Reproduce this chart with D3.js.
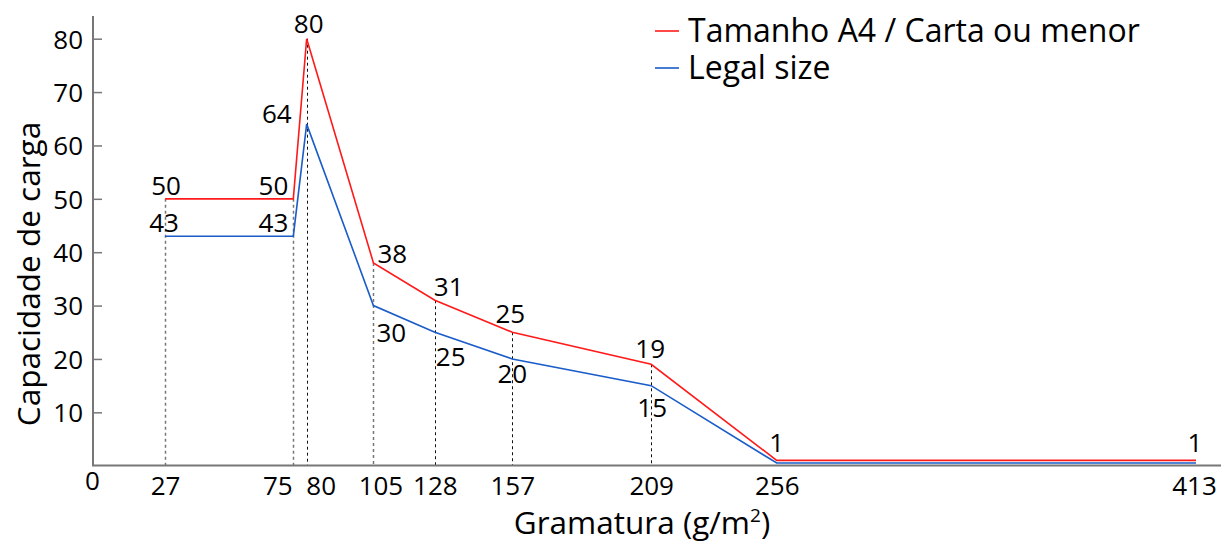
<!DOCTYPE html>
<html>
<head>
<meta charset="utf-8">
<script src="https://cdn.jsdelivr.net/npm/d3@7"></script>
<style>
  html, body { margin: 0; padding: 0; background: #fff; }
  svg { display: block; font-family: "Open Sans", sans-serif; }
</style>
</head>
<body>
<svg id="chart" width="1221" height="542"></svg>
<script>
// ---- data ----
const weights = [27, 75, 80, 105, 128, 157, 209, 256, 413];
const a4Values = [50, 50, 80, 38, 31, 25, 19, 1, 1];
const legalValues = [43, 43, 64, 30, 25, 20, 15, 0.5, 0.5];
const a4Labels = ["50", "50", "80", "38", "31", "25", "19", "1", "1"];
const legalLabels = ["43", "43", "64", "30", "25", "20", "15", "", ""];
const xTickValues = [0, 27, 75, 80, 105, 128, 157, 209, 256, 413];
const yTickValues = [10, 20, 30, 40, 50, 60, 70, 80];
const seriesNames = ["Tamanho A4 / Carta ou menor", "Legal size"];

// ---- layout / style ----
const redColor = "#ff1a1a";
const blueColor = "#1a5cc8";
const axisColor = "#777";
// label placement: [dx, dy, anchor]
const a4LabelPos = [[1,-4,"middle"],[-5,-4,"end"],[2,-6,"middle"],[4,0,"start"],[-1,-4,"start"],[-2,-9,"middle"],[-1,-6,"middle"],[0,-8,"middle"],[-1,-8,"middle"]];
const legalLabelPos = [[-1,-4,"middle"],[-5,-4,"end"],[-15,-1,"end"],[3,36,"start"],[1,34,"start"],[0,24,"middle"],[1,31,"middle"],[0,0,"middle"],[0,0,"middle"]];
const xTickShift = { 0: -1, 75: -16, 80: 14, 105: 7, 413: -2 };
const darkDrops = new Set([2, 4, 5, 6]);

const svg = d3.select("#chart");
const x = d3.scaleLinear().domain([0, 413]).range([93, 1196]);
const y = d3.scaleLinear().domain([0, 80]).range([465.7, 38.7]);

// drop lines (dashed)
svg.append("g").selectAll("line")
  .data(weights.slice(0, 7))
  .join("line")
  .attr("x1", d => Math.round(x(d)) + 0.5)
  .attr("x2", d => Math.round(x(d)) + 0.5)
  .attr("y1", (d, i) => y(a4Values[i]))
  .attr("y2", y(0))
  .attr("stroke", (d, i) => darkDrops.has(i) ? "#111" : "#777")
  .attr("stroke-width", (d, i) => darkDrops.has(i) ? 1 : 1.5)
  .attr("stroke-dasharray", "3,3");

// axes
const yAxis = d3.axisLeft(y).tickValues(yTickValues).tickSize(-9).tickPadding(10);
const gy = svg.append("g").attr("transform", "translate(93,0)").call(yAxis);
gy.select(".domain").remove();
gy.selectAll(".tick line").attr("stroke", axisColor).attr("stroke-width", 1.5);
gy.selectAll(".tick text").attr("font-size", 26).attr("fill", "#000")
  .attr("font-family", "Open Sans, sans-serif").attr("dy", "0.36em");

const xAxis = d3.axisBottom(x).tickValues(xTickValues).tickSize(0).tickPadding(11.5);
const gx = svg.append("g").attr("transform", "translate(0,465)").call(xAxis);
gx.select(".domain").remove();
gx.selectAll(".tick text").attr("font-size", 26).attr("fill", "#000")
  .attr("font-family", "Open Sans, sans-serif")
  .attr("x", d => xTickShift[d] || 0);
gx.selectAll(".tick").filter(d => d === 0).select("text").attr("y", 6.5);

// axis lines
svg.append("line").attr("x1", 93).attr("x2", 93).attr("y1", 16).attr("y2", 466)
  .attr("stroke", axisColor).attr("stroke-width", 2);
svg.append("line").attr("x1", 92).attr("x2", 1221).attr("y1", 465.5).attr("y2", 465.5)
  .attr("stroke", axisColor).attr("stroke-width", 2);

// series lines
const line = d3.line().x(d => x(d[0])).y(d => y(d[1]));
svg.append("path").datum(weights.map((w, i) => [w, legalValues[i]]))
  .attr("d", line).attr("fill", "none").attr("stroke", blueColor).attr("stroke-width", 1.6);
svg.append("path").datum(weights.map((w, i) => [w, a4Values[i]]))
  .attr("d", line).attr("fill", "none").attr("stroke", redColor).attr("stroke-width", 1.6);

// value labels
function addLabels(values, labels, pos) {
  svg.append("g").selectAll("text")
    .data(weights.map((w, i) => ({ w, v: values[i], t: labels[i], p: pos[i] })).filter(d => d.t !== ""))
    .join("text")
    .attr("x", d => x(d.w) + d.p[0])
    .attr("y", d => y(d.v) + d.p[1])
    .attr("text-anchor", d => d.p[2])
    .attr("font-size", 26)
    .attr("fill", "#000")
    .text(d => d.t);
}
addLabels(a4Values, a4Labels, a4LabelPos);
addLabels(legalValues, legalLabels, legalLabelPos);

// axis titles
svg.append("text").attr("transform", "translate(40,274) rotate(-90)")
  .attr("text-anchor", "middle").attr("font-size", 31.5).attr("fill", "#000")
  .text("Capacidade de carga");
const xt = svg.append("text").attr("x", 642).attr("y", 534)
  .attr("text-anchor", "middle").attr("font-size", 31.5).attr("fill", "#000");
xt.append("tspan").text("Gramatura (g/m");
xt.append("tspan").attr("font-size", 19).attr("dy", -12).text("2");
xt.append("tspan").attr("dy", 12).text(")");

// legend
const legendColors = [redColor, blueColor];
const lg = svg.append("g").selectAll("g").data(seriesNames).join("g")
  .attr("transform", (d, i) => `translate(655,${31 + i * 37})`);
lg.append("line").attr("x1", 0).attr("x2", 24).attr("y1", 0).attr("y2", 0)
  .attr("stroke", (d, i) => legendColors[i]).attr("stroke-width", 1.6);
lg.append("text").attr("x", 33).attr("y", 11).attr("font-size", 32).attr("fill", "#000")
  .text(d => d);
</script>
</body>
</html>
